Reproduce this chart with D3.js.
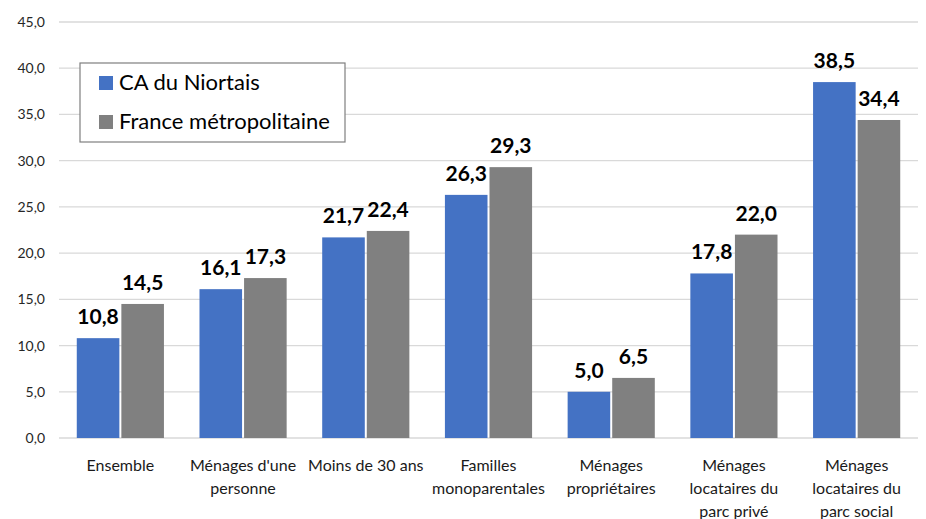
<!DOCTYPE html>
<html><head><meta charset="utf-8">
<script src="https://cdn.jsdelivr.net/npm/d3@7"></script>
<style>body{margin:0;background:#fff;} svg{display:block;font-family:Lato,"Open Sans",sans-serif;}</style>
</head><body>
<svg id="chart" width="926" height="519"></svg>
<script>
const categories = [["Ensemble"],["Ménages d'une","personne"],["Moins de 30 ans"],["Familles","monoparentales"],["Ménages","propriétaires"],["Ménages","locataires du","parc privé"],["Ménages","locataires du","parc social"]];
const seriesNames = ["CA du Niortais","France métropolitaine"];
const niortais = [10.8,16.1,21.7,26.3,5.0,17.8,38.5];
const france = [14.5,17.3,22.4,29.3,6.5,22.0,34.4];
const yTicks = [0,5,10,15,20,25,30,35,40,45];
const colors = ["#4472C4","#808080"];

(function(){
const svg = d3.select("#chart");
const mLeft = 59, mRight = 918, mTop = 22, mBottom = 438;
const fmt = v => v.toFixed(1).replace(".", ",");

const x = d3.scaleBand().domain(d3.range(categories.length)).range([mLeft, mRight]).paddingInner(0).paddingOuter(0);
const y = d3.scaleLinear().domain([0,45]).range([mBottom, mTop]);
const bw = x.bandwidth()*0.347;
const gap = 2;

svg.append("g").selectAll("line").data(yTicks).join("line")
  .attr("x1", mLeft).attr("x2", mRight)
  .attr("y1", d=>y(d)).attr("y2", d=>y(d))
  .attr("stroke", "#d9d9d9").attr("stroke-width", 1.3);

const yAxis = d3.axisLeft(y).tickValues(yTicks).tickFormat(fmt).tickSize(0).tickPadding(14);
const ya = svg.append("g").attr("transform", `translate(${mLeft},0)`).call(yAxis);
ya.select(".domain").remove();
ya.selectAll("text").attr("font-size", 14).attr("fill", "#262626").attr("font-family", "Lato,'Open Sans',sans-serif");

const series = [niortais, france];
series.forEach((vals, si) => {
  const g = svg.append("g");
  g.selectAll("rect").data(vals).join("rect")
    .attr("x", (d,i) => x(i) + x.bandwidth()/2 + (si===0 ? -bw - gap/2 : gap/2))
    .attr("y", d => y(d))
    .attr("width", bw)
    .attr("height", d => y(0) - y(d))
    .attr("fill", colors[si]);
  g.selectAll("text").data(vals).join("text")
    .attr("x", (d,i) => x(i) + x.bandwidth()/2 + (si===0 ? -bw/2 - gap/2 : bw/2 + gap/2))
    .attr("y", d => y(d) - 14)
    .attr("text-anchor", "middle")
    .attr("font-size", 21).attr("font-weight", "bold").attr("fill", "#000")
    .text(d => fmt(d));
});

const cg = svg.append("g");
categories.forEach((lines, i) => {
  const t = cg.append("text").attr("text-anchor","middle").attr("font-size", 16).attr("fill","#1a1a1a");
  lines.forEach((ln, j) => {
    t.append("tspan").attr("x", x(i)+x.bandwidth()/2).attr("y", 471 + j*23).text(ln);
  });
});

const lg = svg.append("g");
lg.append("rect").attr("x", 80).attr("y", 63).attr("width", 265).attr("height", 79)
  .attr("fill", "#fff").attr("stroke", "#7f7f7f").attr("stroke-width", 1.2);
seriesNames.forEach((n, i) => {
  lg.append("rect").attr("x", 99).attr("y", 76 + i*39).attr("width", 14).attr("height", 14).attr("fill", colors[i]);
  lg.append("text").attr("x", 119).attr("y", 90 + i*39).attr("font-size", 22).attr("fill", "#000").text(n);
});
})();
</script>
</body></html>
